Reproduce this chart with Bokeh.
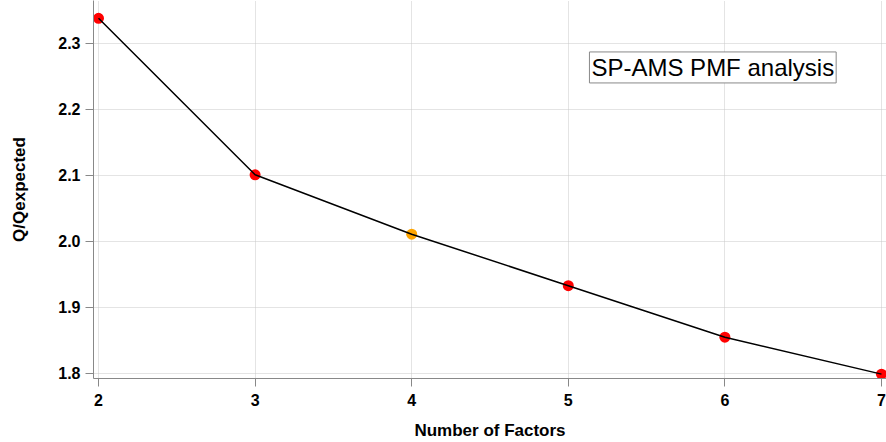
from bokeh.plotting import figure
from bokeh.models import Range1d, Label, FixedTicker, CustomJSTickFormatter
from bokeh.embed import file_html
from bokeh.resources import INLINE

factors = [2, 3, 4, 5, 6, 7]
q_ratio = [2.338, 2.101, 2.011, 1.933, 1.855, 1.799]
point_colors = ["red", "red", "orange", "red", "red", "red"]
x_ticks = [2, 3, 4, 5, 6, 7]
y_ticks = [1.8, 1.9, 2.0, 2.1, 2.2, 2.3]

p = figure(width=886, height=442, output_backend="svg", toolbar_location=None,
           x_range=Range1d(1.968, 7.032), y_range=Range1d(1.7924, 2.365),
           min_border_left=93, min_border_right=0, min_border_top=0, min_border_bottom=64)
p.outline_line_color = None

p.scatter(factors, q_ratio, size=11, fill_color=point_colors, line_color=None)
p.line(factors, q_ratio, line_color="black", line_width=1.5)

for ax in (p.xaxis, p.yaxis):
    ax.axis_line_color = "#888888"
    ax.major_tick_line_color = "#888888"
    ax.major_tick_out = 8
    ax.major_tick_in = 0
    ax.minor_tick_line_color = None
    ax.major_label_text_font = "Liberation Sans"
    ax.major_label_text_font_style = "bold"
    ax.major_label_text_font_size = "16px"
    ax.major_label_text_color = "black"
    ax.axis_label_text_font = "Liberation Sans"
    ax.axis_label_text_font_style = "bold"
    ax.axis_label_text_font_size = "17px"
    ax.axis_label_text_color = "black"

p.xaxis.ticker = FixedTicker(ticks=x_ticks)
p.yaxis.ticker = FixedTicker(ticks=y_ticks)
p.yaxis.formatter = CustomJSTickFormatter(code="return tick.toFixed(1);")
p.xaxis.axis_label = "Number of Factors"
p.yaxis.axis_label = "Q/Qexpected"
p.xaxis.axis_label_standoff = 12
p.yaxis.axis_label_standoff = 26
p.xaxis.major_label_standoff = 7
p.yaxis.major_label_standoff = 5

p.xgrid.ticker = FixedTicker(ticks=x_ticks)
p.ygrid.ticker = FixedTicker(ticks=y_ticks)
for g in (p.xgrid, p.ygrid):
    g.grid_line_color = "#c8c8c8"
    g.grid_line_dash = "1 1"
    g.grid_line_width = 1

lab = Label(x=5.135, y=2.2636, text="SP-AMS PMF analysis", text_baseline="middle",
            text_font="Liberation Sans", text_font_size="24px", text_color="black",
            border_line_color="#888888", border_line_width=1,
            background_fill_color="white", padding=2)
p.add_layout(lab)

open("out.html", "w").write(file_html(p, INLINE))
